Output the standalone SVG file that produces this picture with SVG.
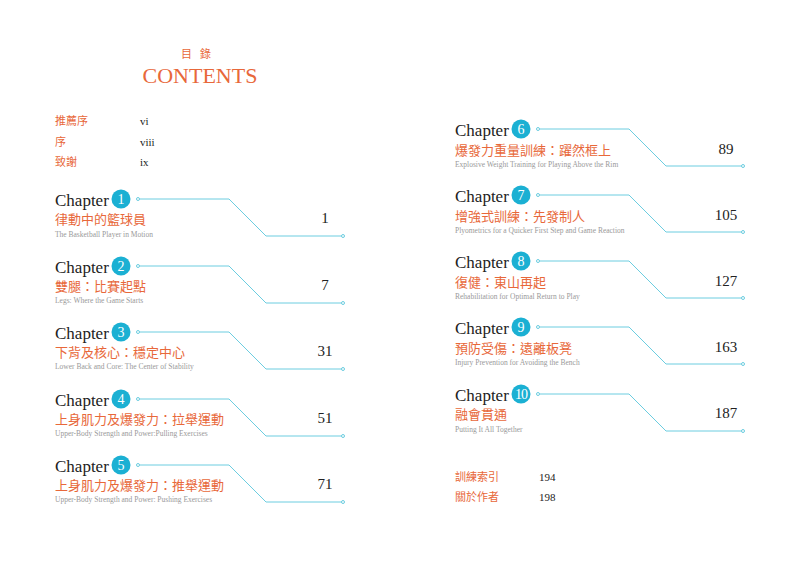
<svg xmlns="http://www.w3.org/2000/svg" width="799" height="564" viewBox="0 0 799 564">
<style>
.ch{font-family:"Liberation Serif",serif;font-size:17px;fill:#222}
.num{font-family:"Liberation Serif",serif;font-size:14px;fill:#fff;text-anchor:middle}
.zh{font-family:"Noto Sans CJK TC",sans-serif;font-size:13px;fill:#E8683A}
.en{font-family:"Liberation Serif",serif;font-size:7.5px;fill:#999}
.pg{font-family:"Liberation Serif",serif;font-size:15px;fill:#222;text-anchor:middle}
.fm{font-family:"Noto Sans CJK TC",sans-serif;font-size:11px;fill:#E8683A}
.fp{font-family:"Liberation Serif",serif;font-size:11px;fill:#222}
.ln{fill:none;stroke:#6CCDE0;stroke-width:1}
.dot{fill:#fff;stroke:#6CCDE0;stroke-width:1}
.badge{fill:#1BB0D3}
</style>
<rect width="799" height="564" fill="#fff"/>
<g id="header">
<text x="200" y="58" text-anchor="middle" font-family="Noto Sans CJK TC,sans-serif" font-size="11" fill="#E8683A" letter-spacing="8">目錄</text>
<text x="200" y="83" text-anchor="middle" font-family="Liberation Serif,serif" font-size="22" fill="#E8683A">CONTENTS</text>
</g>
<g id="front">
<text class="fm" x="55" y="125">推薦序</text><text class="fp" x="140" y="125">vi</text>
<text class="fm" x="55" y="146">序</text><text class="fp" x="140" y="146">viii</text>
<text class="fm" x="55" y="166">致謝</text><text class="fp" x="140" y="166">ix</text>
</g>
<g id="back">
<text class="fm" x="455" y="481">訓練索引</text><text class="fp" x="539" y="481">194</text>
<text class="fm" x="455" y="501">關於作者</text><text class="fp" x="539" y="501">198</text>
</g>
<g id="connectors">
<path class="ln" d="M138 199H229L266 236H343"/>
<path class="ln" d="M138 266H229L266 303H343"/>
<path class="ln" d="M138 332H229L266 369H343"/>
<path class="ln" d="M138 399H229L266 436H343"/>
<path class="ln" d="M138 465H229L266 502H343"/>
<path class="ln" d="M538 129H629L666 166H743"/>
<path class="ln" d="M538 195H629L666 232H743"/>
<path class="ln" d="M538 261H629L666 298H743"/>
<path class="ln" d="M538 327H629L666 364H743"/>
<path class="ln" d="M538 394H629L666 431H743"/>
<g>
<circle class="dot" cx="138" cy="199" r="1.5"/><circle class="dot" cx="343" cy="236" r="1.5"/>
<circle class="dot" cx="138" cy="266" r="1.5"/><circle class="dot" cx="343" cy="303" r="1.5"/>
<circle class="dot" cx="138" cy="332" r="1.5"/><circle class="dot" cx="343" cy="369" r="1.5"/>
<circle class="dot" cx="138" cy="399" r="1.5"/><circle class="dot" cx="343" cy="436" r="1.5"/>
<circle class="dot" cx="138" cy="465" r="1.5"/><circle class="dot" cx="343" cy="502" r="1.5"/>
<circle class="dot" cx="538" cy="129" r="1.5"/><circle class="dot" cx="743" cy="166" r="1.5"/>
<circle class="dot" cx="538" cy="195" r="1.5"/><circle class="dot" cx="743" cy="232" r="1.5"/>
<circle class="dot" cx="538" cy="261" r="1.5"/><circle class="dot" cx="743" cy="298" r="1.5"/>
<circle class="dot" cx="538" cy="327" r="1.5"/><circle class="dot" cx="743" cy="364" r="1.5"/>
<circle class="dot" cx="538" cy="394" r="1.5"/><circle class="dot" cx="743" cy="431" r="1.5"/>
</g>
</g>
<g id="ch1"><text class="ch" x="55" y="206">Chapter</text><circle class="badge" cx="121" cy="199" r="9.5"/><text class="num" x="121" y="204">1</text>
<text class="zh" x="55" y="224">律動中的籃球員</text><text class="en" x="55" y="237">The Basketball Player in Motion</text><text class="pg" x="325" y="223">1</text></g>
<g id="ch2"><text class="ch" x="55" y="273">Chapter</text><circle class="badge" cx="121" cy="266" r="9.5"/><text class="num" x="121" y="271">2</text>
<text class="zh" x="55" y="291">雙腿：比賽起點</text><text class="en" x="55" y="303">Legs: Where the Game Starts</text><text class="pg" x="325" y="290">7</text></g>
<g id="ch3"><text class="ch" x="55" y="339">Chapter</text><circle class="badge" cx="121" cy="332" r="9.5"/><text class="num" x="121" y="337">3</text>
<text class="zh" x="55" y="357">下背及核心：穩定中心</text><text class="en" x="55" y="369">Lower Back and Core: The Center of Stability</text><text class="pg" x="325" y="356">31</text></g>
<g id="ch4"><text class="ch" x="55" y="406">Chapter</text><circle class="badge" cx="121" cy="399" r="9.5"/><text class="num" x="121" y="404">4</text>
<text class="zh" x="55" y="424">上身肌力及爆發力：拉舉運動</text><text class="en" x="55" y="436">Upper-Body Strength and Power:Pulling Exercises</text><text class="pg" x="325" y="423">51</text></g>
<g id="ch5"><text class="ch" x="55" y="472">Chapter</text><circle class="badge" cx="121" cy="465" r="9.5"/><text class="num" x="121" y="470">5</text>
<text class="zh" x="55" y="490">上身肌力及爆發力：推舉運動</text><text class="en" x="55" y="502">Upper-Body Strength and Power: Pushing Exercises</text><text class="pg" x="325" y="489">71</text></g>
<g id="ch6"><text class="ch" x="455" y="136">Chapter</text><circle class="badge" cx="521" cy="129" r="9.5"/><text class="num" x="521" y="134">6</text>
<text class="zh" x="455" y="155">爆發力重量訓練：躍然框上</text><text class="en" x="455" y="167">Explosive Weight Training for Playing Above the Rim</text><text class="pg" x="726" y="154">89</text></g>
<g id="ch7"><text class="ch" x="455" y="202">Chapter</text><circle class="badge" cx="521" cy="195" r="9.5"/><text class="num" x="521" y="200">7</text>
<text class="zh" x="455" y="221">增強式訓練：先發制人</text><text class="en" x="455" y="233">Plyometrics for a Quicker First Step and Game Reaction</text><text class="pg" x="726" y="220">105</text></g>
<g id="ch8"><text class="ch" x="455" y="268">Chapter</text><circle class="badge" cx="521" cy="261" r="9.5"/><text class="num" x="521" y="266">8</text>
<text class="zh" x="455" y="287">復健：東山再起</text><text class="en" x="455" y="299">Rehabilitation for Optimal Return to Play</text><text class="pg" x="726" y="286">127</text></g>
<g id="ch9"><text class="ch" x="455" y="334">Chapter</text><circle class="badge" cx="521" cy="327" r="9.5"/><text class="num" x="521" y="332">9</text>
<text class="zh" x="455" y="353">預防受傷：遠離板凳</text><text class="en" x="455" y="365">Injury Prevention for Avoiding the Bench</text><text class="pg" x="726" y="352">163</text></g>
<g id="ch10"><text class="ch" x="455" y="401">Chapter</text><circle class="badge" cx="521" cy="394" r="9.5"/><text class="num" x="521" y="399" letter-spacing="-1">10</text>
<text class="zh" x="455" y="419">融會貫通</text><text class="en" x="455" y="432">Putting It All Together</text><text class="pg" x="726" y="418">187</text></g>
</svg>
